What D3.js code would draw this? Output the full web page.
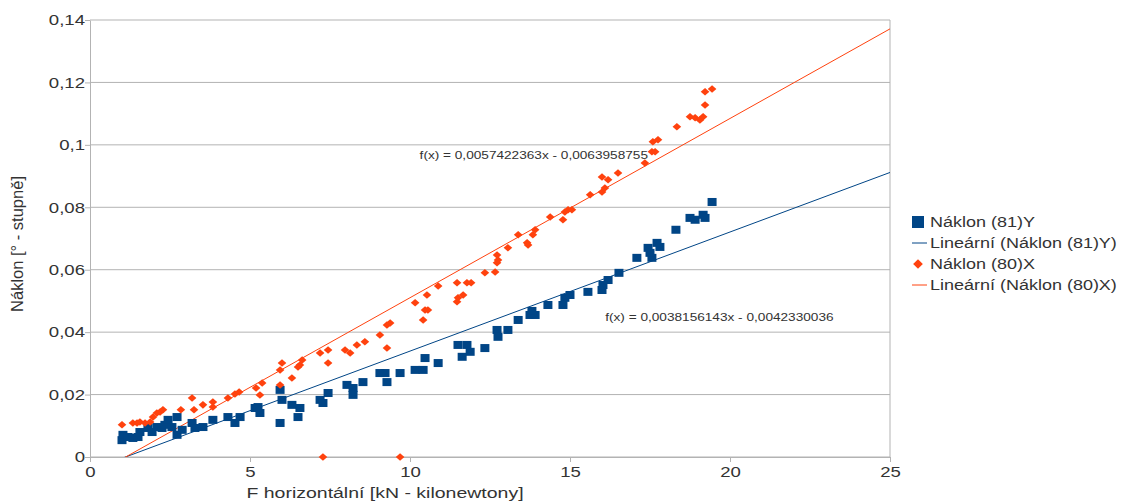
<!DOCTYPE html>
<html>
<head>
<meta charset="utf-8">
<script src="https://cdn.jsdelivr.net/npm/d3@7"></script>
<style>
  body { margin: 0; background: #fff; }
  svg text { font-family: "Liberation Sans", Arial, sans-serif; fill: #333; }
</style>
</head>
<body>
<div id="chart"></div>
<script>
// Náklon (81)Y – x values [kN] and tilt [°]
const blueX = [1.00, 1.03, 1.19, 1.34, 1.50, 1.56, 1.81, 1.94, 2.09, 2.25, 2.34, 2.44, 2.56, 2.72, 2.72, 2.88,
  3.19, 3.28, 3.53, 3.84, 4.31, 4.53, 4.69, 5.16, 5.25, 5.31, 5.94, 6.00, 5.94, 6.31, 6.56, 6.50,
  7.19, 7.28, 7.44, 8.03, 8.22, 8.22, 8.53, 9.06, 9.22, 9.28, 9.69, 10.16, 10.41, 10.47, 10.88,
  11.50, 11.78, 11.88, 11.63, 12.34, 12.72, 12.75, 13.06, 13.38, 13.75, 13.91, 13.81, 14.31, 14.78,
  14.84, 15.00, 15.56, 16.00, 16.03, 16.19, 16.53, 17.09, 17.56, 17.44, 17.72, 17.81, 17.50,
  18.31, 18.75, 18.91, 19.16, 19.22, 19.44];
const blueY = [0.0054, 0.0071, 0.0064, 0.0061, 0.0064, 0.0080, 0.0093, 0.0080, 0.0096, 0.0093, 0.0103, 0.0119, 0.0096, 0.0128, 0.0071, 0.0087,
  0.0109, 0.0093, 0.0096, 0.0119, 0.0128, 0.0109, 0.0128, 0.0157, 0.0160, 0.0141, 0.0215, 0.0183, 0.0109, 0.0167, 0.0157, 0.0128,
  0.0183, 0.0173, 0.0205, 0.0231, 0.0221, 0.0199, 0.0240, 0.0269, 0.0269, 0.0240, 0.0269, 0.0279, 0.0279, 0.0317, 0.0301,
  0.0359, 0.0359, 0.0337, 0.0321, 0.0349, 0.0407, 0.0385, 0.0407, 0.0439, 0.0455, 0.0455, 0.0468, 0.0487, 0.0487,
  0.0510, 0.0519, 0.0529, 0.0535, 0.0551, 0.0567, 0.0590, 0.0638, 0.0638, 0.0670, 0.0686, 0.0673, 0.0654,
  0.0728, 0.0766, 0.0760, 0.0776, 0.0766, 0.0817];

// Náklon (80)X
const orangeX = [1.00, 1.34, 1.47, 1.56, 1.72, 1.88, 1.97, 2.09, 2.19, 2.28, 2.84, 3.19, 3.25, 3.53, 3.84, 3.84,
  4.31, 4.53, 4.66, 5.19, 5.31, 5.38, 5.94, 6.00, 5.94, 6.31, 6.56, 6.63, 6.50, 7.19, 7.44, 7.44,
  7.97, 8.13, 8.34, 8.59, 9.06, 9.28, 9.38, 9.28, 10.16, 10.47, 10.56, 10.41, 10.53, 10.88,
  11.47, 11.78, 11.91, 11.47, 11.50, 11.66, 12.34, 12.66, 12.72, 12.72, 12.75, 13.06, 13.38, 13.66,
  13.69, 13.84, 13.91, 14.38, 14.78, 14.84, 14.94, 15.06, 15.63, 16.00, 16.09, 16.19, 16.00, 16.50,
  17.34, 17.56, 17.66, 17.59, 17.75, 18.34, 18.75, 18.91, 19.06, 19.16, 19.22, 19.22, 19.44, 7.28, 9.69];
const orangeY = [0.0103, 0.0109, 0.0109, 0.0112, 0.0109, 0.0112, 0.0128, 0.0141, 0.0144, 0.0151, 0.0151, 0.0189, 0.0151, 0.0167, 0.0176, 0.0160,
  0.0189, 0.0202, 0.0208, 0.0221, 0.0199, 0.0237, 0.0231, 0.0301, 0.0279, 0.0253, 0.0295, 0.0311, 0.0288, 0.0333, 0.0343, 0.0301,
  0.0343, 0.0333, 0.0359, 0.0369, 0.0391, 0.0423, 0.0429, 0.0349, 0.0494, 0.0471, 0.0471, 0.0439, 0.0519, 0.0548,
  0.0558, 0.0558, 0.0558, 0.0497, 0.0510, 0.0519, 0.0590, 0.0593, 0.0622, 0.0647, 0.0631, 0.0670, 0.0712, 0.0686,
  0.0679, 0.0712, 0.0728, 0.0769, 0.0760, 0.0785, 0.0792, 0.0792, 0.0840, 0.0849, 0.0862, 0.0888, 0.0897, 0.0910,
  0.0942, 0.0978, 0.0978, 0.1010, 0.1016, 0.1058, 0.1090, 0.1087, 0.1080, 0.1090, 0.1128, 0.1170, 0.1179, 0, 0];

// linear trend lines (slope, intercept)
const blueFit = [0.0038156143, -0.0042330036];
const orangeFit = [0.0057422363, -0.0063958755];

const xTicks = [0, 5, 10, 15, 20, 25];
const yTicks = [0, 0.02, 0.04, 0.06, 0.08, 0.1, 0.12, 0.14];
const yTickLabels = ["0", "0,02", "0,04", "0,06", "0,08", "0,1", "0,12", "0,14"];

const legendLabels = ["Náklon (81)Y", "Lineární (Náklon (81)Y)", "Náklon (80)X", "Lineární (Náklon (80)X)"];

const blue = "#004586", orange = "#ff420e";
const sx = 1.24; // the original's text is drawn horizontally stretched

const W = 1124, H = 502;
const margin = { top: 20, right: 234, bottom: 45, left: 90 };
const width = W - margin.left - margin.right;
const height = H - margin.top - margin.bottom;

const svg = d3.select('#chart').append('svg')
  .attr('width', W).attr('height', H);

const g = svg.append('g')
  .attr('transform', 'translate(' + margin.left + ',' + margin.top + ')');

// text placed at (px, py) and stretched horizontally
function label(parent, px, py, txt, size, anchor, s) {
  return parent.append('g')
    .attr('transform', 'translate(' + px + ',' + py + ') scale(' + (s || sx) + ',1)')
    .append('text')
    .attr('text-anchor', anchor || 'start')
    .attr('font-size', size)
    .text(txt);
}

const x = d3.scaleLinear().domain([0, 25]).range([0, width]);
const y = d3.scaleLinear().domain([0, 0.14]).range([height, 0]);

svg.append('defs').append('clipPath').attr('id', 'plot')
  .append('rect').attr('width', width).attr('height', height);

// horizontal grid
g.append('g')
  .selectAll('line').data(yTicks).join('line')
  .attr('x1', 0).attr('x2', width)
  .attr('y1', d => y(d)).attr('y2', d => y(d))
  .attr('stroke', '#b3b3b3').attr('stroke-width', 1);

// right border of the plot
g.append('line')
  .attr('x1', width).attr('x2', width).attr('y1', 0).attr('y2', height)
  .attr('stroke', '#b3b3b3');

// axes
const yAxis = g.append('g')
  .call(d3.axisLeft(y).tickValues(yTicks).tickFormat((d, i) => yTickLabels[i]).tickSize(5).tickSizeOuter(0));
const xAxis = g.append('g')
  .attr('transform', 'translate(0,' + height + ')')
  .call(d3.axisBottom(x).tickValues(xTicks).tickSize(5).tickSizeOuter(0));

[xAxis, yAxis].forEach(a => {
  a.select('.domain').attr('stroke', '#b3b3b3');
  a.selectAll('.tick line').attr('stroke', '#b3b3b3');
  a.selectAll('.tick text').attr('font-size', 15).style('fill', '#333')
    .attr('transform', 'scale(' + sx + ',1)');
});
yAxis.selectAll('.tick text').attr('x', -5 / sx);
xAxis.selectAll('.tick text').attr('y', 9);

// trend lines
const plot = g.append('g').attr('clip-path', 'url(#plot)');
[[blueFit, blue], [orangeFit, orange]].forEach(([f, c]) => {
  const pts = [0, 25].map(v => [v, f[0] * v + f[1]]);
  plot.append('path')
    .attr('d', d3.line().x(d => x(d[0])).y(d => y(d[1]))(pts))
    .attr('stroke', c).attr('stroke-width', 1).attr('fill', 'none');
});

// points
const blueData = blueX.map((v, i) => [v, blueY[i]]);
const orangeData = orangeX.map((v, i) => [v, orangeY[i]]);

g.append('g').selectAll('rect').data(blueData).join('rect')
  .attr('x', d => x(d[0]) - 4.5).attr('y', d => y(d[1]) - 4)
  .attr('width', 9).attr('height', 8)
  .attr('fill', blue);

const diamond = d3.symbol().type(d3.symbolDiamond2).size(36);
g.append('g').selectAll('path').data(orangeData).join('path')
  .attr('d', diamond)
  .attr('transform', d => 'translate(' + x(d[0]) + ',' + y(d[1]) + ') scale(1.15,1)')
  .attr('fill', orange);

// equations
label(g, x(10.3), y(0.0955), 'f(x) = 0,0057422363x - 0,0063958755', 11);
label(g, x(16.1), y(0.0436), 'f(x) = 0,0038156143x - 0,0042330036', 11);

// axis titles
label(svg, 385, 498, 'F horizontální [kN - kilonewtony]', 15, 'middle', 1.3);
svg.append('text')
  .attr('transform', 'translate(23,244) rotate(-90)')
  .attr('text-anchor', 'middle').attr('font-size', 16.5)
  .text('Náklon [° - stupně]');

// legend
const legend = svg.append('g').attr('transform', 'translate(912,222)');
legendLabels.forEach((t, i) => {
  const row = legend.append('g').attr('transform', 'translate(0,' + (i * 21) + ')');
  if (i === 0) {
    row.append('rect').attr('x', 0).attr('y', -6).attr('width', 12).attr('height', 12).attr('fill', blue);
  } else if (i === 2) {
    row.append('path').attr('d', d3.symbol().type(d3.symbolDiamond2).size(60))
      .attr('transform', 'translate(6,0)').attr('fill', orange);
  } else {
    row.append('line').attr('x1', 0).attr('x2', 15).attr('y1', 0).attr('y2', 0)
      .attr('stroke', i === 1 ? blue : orange);
  }
  label(row, 18, 5, t, 15, 'start', 1.2);
});
</script>
</body>
</html>
